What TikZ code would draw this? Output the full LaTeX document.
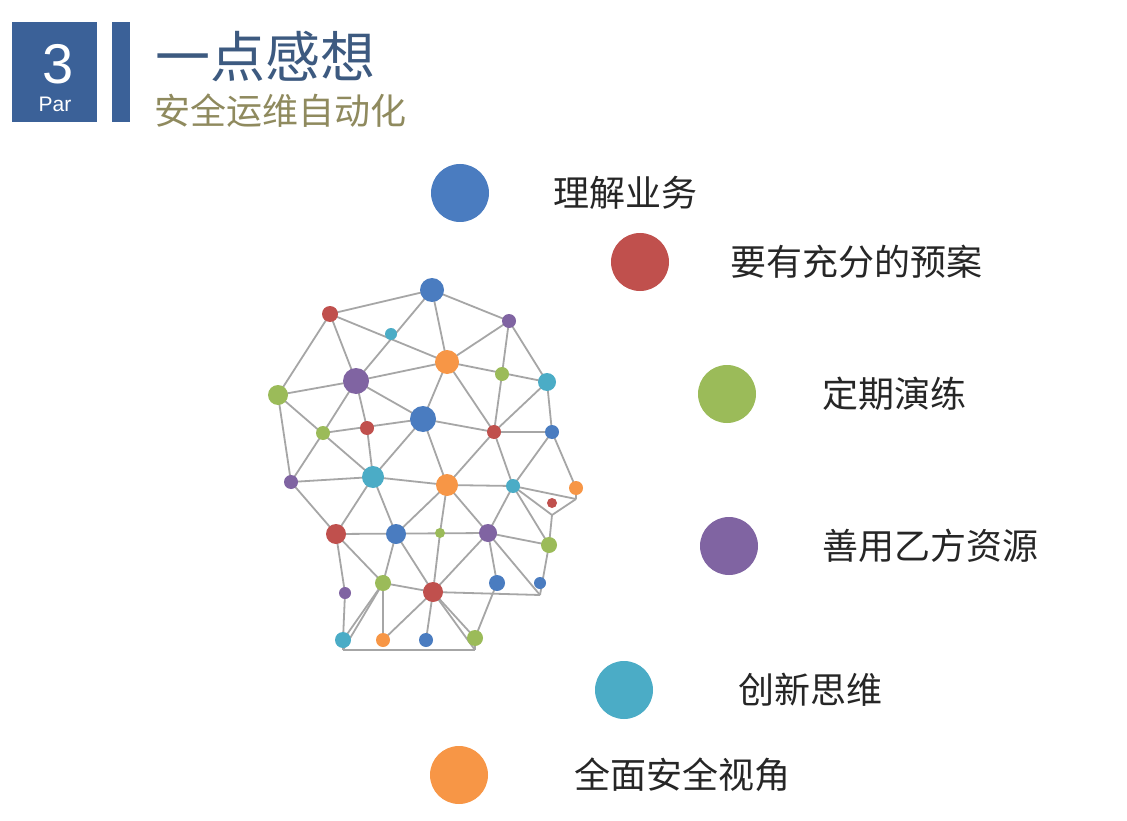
\documentclass[tikz,border=0pt]{standalone}
\usepackage{fontspec}
\setmainfont{Liberation Sans}
\newfontfamily\cjk{Noto Sans CJK SC}
\definecolor{cB}{HTML}{4A7CC0}\definecolor{cR}{HTML}{C0504D}\definecolor{cG}{HTML}{9BBB59}
\definecolor{cP}{HTML}{8064A2}\definecolor{cC}{HTML}{4BACC6}\definecolor{cO}{HTML}{F79646}
\definecolor{hdr}{HTML}{3B6198}\definecolor{ttl}{HTML}{3D5A80}\definecolor{sub}{HTML}{8F8A5E}
\begin{document}
\begin{tikzpicture}[x=1pt,y=-1pt,
  dot/.style={circle,inner sep=0pt,draw=none},
  edge/.style={draw=black!35,line width=1.8pt},
  lab/.style={anchor=west,font=\cjk\fontsize{36}{42}\selectfont,text=black!85}]
\useasboundingbox[fill=white] (0,0) rectangle (1127,821);
% header
\node[fill=hdr,minimum width=85pt,minimum height=100pt,anchor=north west,inner sep=0] (box) at (12,22) {};
\node[fill=hdr,minimum width=18pt,minimum height=100pt,anchor=north west,inner sep=0] (bar) at (112,22) {};
\node[text=white,font=\fontsize{56}{60}\selectfont] (num) at (58,64) {3};
\node[text=white,font=\fontsize{21}{24}\selectfont] (par) at (55,104) {Par};
\node[anchor=west,text=ttl,font=\cjk\fontsize{55}{60}\selectfont,inner sep=0] (title) at (155,57) {一点感想};
\node[anchor=west,text=sub,font=\cjk\fontsize{36}{40}\selectfont,inner sep=0] (subt) at (154,111) {安全运维自动化};
% head nodes
\foreach \n/\x/\y/\r/\c in {
 n1/432/290/12/cB, n2/330/314/8/cR, n3/391/334/6/cC, n4/509/321/7/cP, n5/447/362/12/cO,
 n6/356/381/13/cP, n7/502/374/7/cG, n8/547/382/9/cC, n9/278/395/10/cG, n10/423/419/13/cB,
 n11/323/433/7/cG, n12/367/428/7/cR, n13/494/432/7/cR, n14/552/432/7/cB, n15/291/482/7/cP,
 n16/373/477/11/cC, n17/447/485/11/cO, n18/513/486/7/cC, n19/576/488/7/cO, n20/552/503/5/cR,
 n21/336/534/10/cR, n22/396/534/10/cB, n23/440/533/5/cG, n24/488/533/9/cP, n25/549/545/8/cG,
 n26/383/583/8/cG, n27/345/593/6/cP, n28/433/592/10/cR, n29/497/583/8/cB, n30/540/583/6/cB,
 n31/343/640/8/cC, n32/383/640/7/cO, n33/426/640/7/cB, n34/475/638/8/cG}
 \node[dot,minimum size=2*\r pt] (\n) at (\x,\y) {};
\coordinate (pn) at (576,499); \coordinate (pm) at (552,515); \coordinate (pc) at (540,595);
\coordinate (bl) at (343,650); \coordinate (br) at (475,650);
\foreach \a/\b in {n1/n2,n1/n6,n1/n5,n1/n4,n2/n9,n2/n6,n2/n5,n4/n5,n4/n7,n4/n8,
 n5/n6,n5/n10,n5/n13,n5/n8,n6/n9,n6/n10,n6/n12,n6/n11,n11/n15,n9/n16,n9/n15,
 n11/n10,n10/n13,n13/n14,n12/n16,n10/n16,n10/n17,n13/n17,n13/n18,n8/n13,n8/n14,n7/n13,
 n14/n18,n14/n19,n15/n16,n16/n17,n17/n18,n18/pn,n19/pn,pn/pm,n18/pm,pm/n25,
 n15/n21,n16/n21,n16/n22,n17/n22,n17/n23,n17/n24,n18/n24,n18/n25,
 n21/n24,n24/n25,n21/n27,n21/n26,n22/n26,n22/n28,n23/n28,n24/n28,n24/n29,n24/pc,n25/pc,
 n26/n28,n28/pc,n26/n31,n26/n32,n27/n31,n28/n32,n28/n33,n28/n34,n29/n34,
 n31/bl,bl/br,n34/br,bl/n26,n28/br}
 \draw[edge] (\a.center) -- (\b.center);
\foreach \n/\x/\y/\r/\c in {
 n1/432/290/12/cB, n2/330/314/8/cR, n3/391/334/6/cC, n4/509/321/7/cP, n5/447/362/12/cO,
 n6/356/381/13/cP, n7/502/374/7/cG, n8/547/382/9/cC, n9/278/395/10/cG, n10/423/419/13/cB,
 n11/323/433/7/cG, n12/367/428/7/cR, n13/494/432/7/cR, n14/552/432/7/cB, n15/291/482/7/cP,
 n16/373/477/11/cC, n17/447/485/11/cO, n18/513/486/7/cC, n19/576/488/7/cO, n20/552/503/5/cR,
 n21/336/534/10/cR, n22/396/534/10/cB, n23/440/533/5/cG, n24/488/533/9/cP, n25/549/545/8/cG,
 n26/383/583/8/cG, n27/345/593/6/cP, n28/433/592/10/cR, n29/497/583/8/cB, n30/540/583/6/cB,
 n31/343/640/8/cC, n32/383/640/7/cO, n33/426/640/7/cB, n34/475/638/8/cG}
 \fill[\c] (\n.center) circle (\r);
% legend
\foreach \n/\x/\y/\c/\tx/\t in {a/460/193/cB/553/理解业务, b/640/262/cR/730/要有充分的预案,
 c/727/394/cG/822/定期演练, d/729/546/cP/822/善用乙方资源, e/624/690/cC/738/创新思维,
 f/459/775/cO/574/全面安全视角}{
 \node[dot,fill=\c,minimum size=58pt] (l\n) at (\x,\y) {};
 \node[lab,inner sep=0] (t\n) at (\tx,\y) {\t};}
\end{tikzpicture}
\end{document}
